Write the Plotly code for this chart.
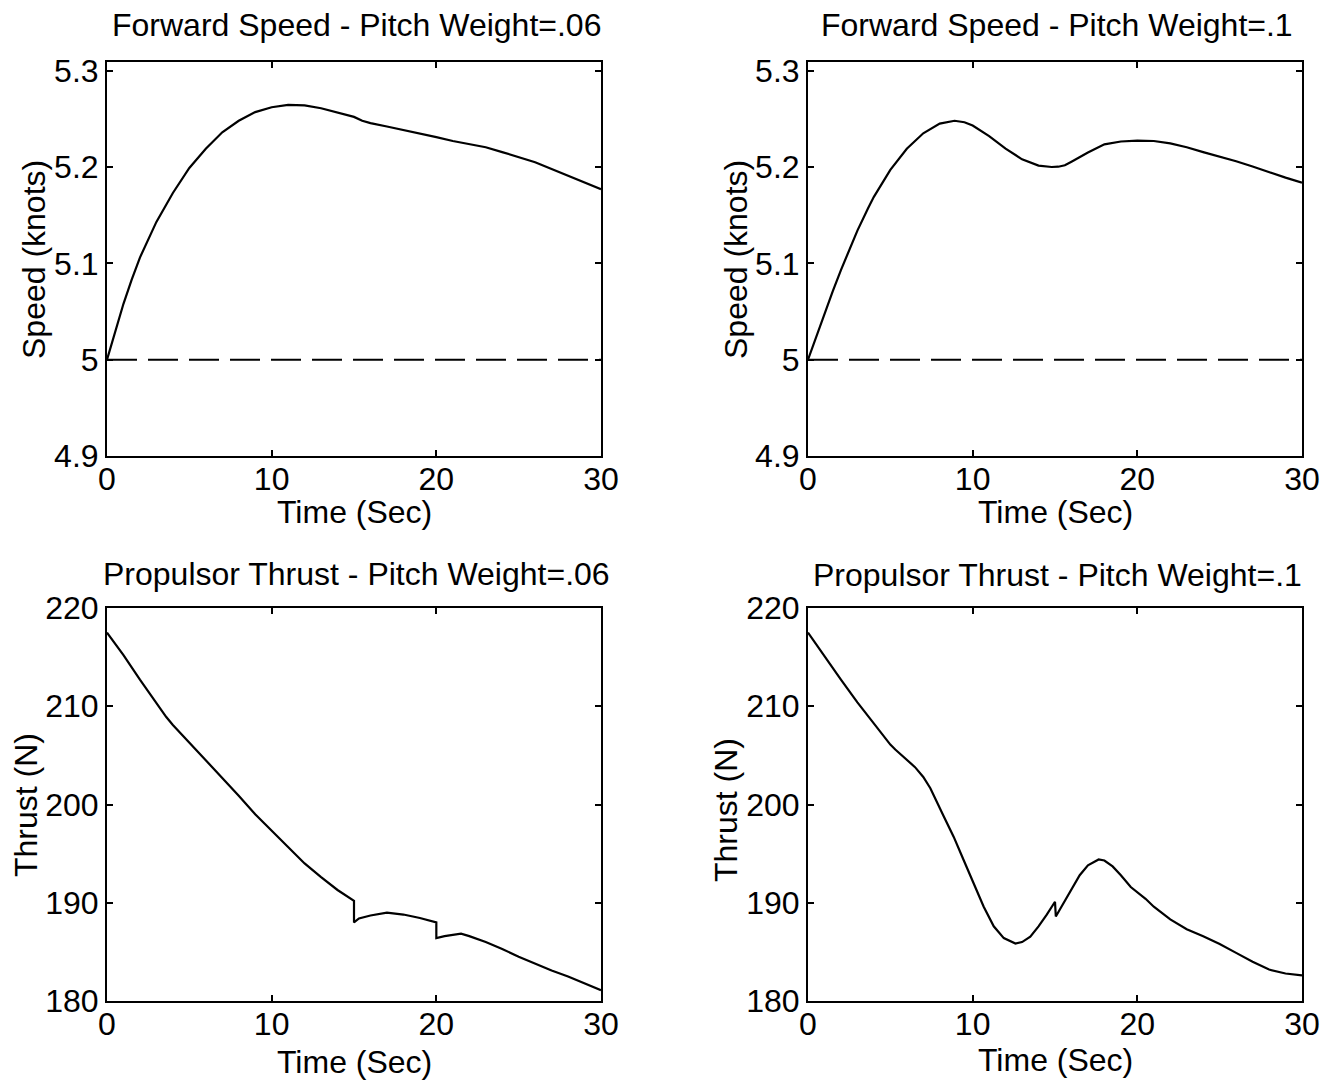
import plotly.graph_objects as go

W, H = 1328, 1081

# ---------------- data ----------------
speed06_t = [0, 0.5, 1, 1.5, 2, 3, 4, 5, 6, 7, 8, 9, 10, 11, 12, 13, 14, 15, 15.5, 16, 17, 18, 19,
             20, 21, 22, 23, 24, 25, 26, 27, 28, 29, 30]
speed06_v = [5.000, 5.030, 5.058, 5.083, 5.106, 5.143, 5.173, 5.199, 5.219, 5.236, 5.248, 5.257, 5.262,
             5.2645, 5.264, 5.261, 5.2565, 5.252, 5.248, 5.2455, 5.242, 5.2385, 5.235, 5.231, 5.227,
             5.224, 5.2205, 5.2155, 5.2105, 5.205, 5.198, 5.191, 5.184, 5.177]

speed10_t = [0, 0.5, 1, 1.5, 2, 3, 3.64, 4, 5, 5.47, 6, 7, 8, 8.9, 9.5, 10, 11, 12, 13, 14, 14.8, 15.2,
             15.6, 16, 17, 18, 19, 20, 21, 22, 23, 24, 25, 26, 27, 28, 29, 30]
speed10_v = [5.000, 5.024, 5.047, 5.071, 5.093, 5.134, 5.157, 5.169, 5.197, 5.207, 5.219, 5.235, 5.245,
             5.248, 5.2465, 5.243, 5.232, 5.219, 5.208, 5.2015, 5.200, 5.2003, 5.2018, 5.2055, 5.215,
             5.2235, 5.2265, 5.2274, 5.227, 5.2245, 5.2205, 5.2155, 5.211, 5.206, 5.2005, 5.1945,
             5.189, 5.1838]

ref_t = [0, 30]
ref_v = [5.0, 5.0]

thrust06_t = [0, 0.5, 1, 2, 3, 3.6, 4, 5, 6, 7, 8, 9, 10, 11, 12, 13, 14, 15.0, 15.0, 15.3, 16, 17, 18,
              19, 20.0, 20.0, 20.5, 21.5, 22, 23, 24, 25, 26, 27, 28, 29, 30]
thrust06_v = [217.5, 216.4, 215.2, 212.7, 210.3, 208.9, 208.1, 206.3, 204.6, 202.8, 200.9, 199.0, 197.3,
              195.7, 194.0, 192.6, 191.3, 190.2, 188.0, 188.4, 188.7, 189.0, 188.8, 188.45, 188.0, 186.4,
              186.6, 186.85, 186.6, 186.0, 185.3, 184.5, 183.8, 183.1, 182.5, 181.8, 181.1]

thrust10_t = [0, 0.5, 1, 2, 3, 4, 5, 5.3, 6, 6.5, 7, 7.43, 8.24, 8.85, 9.45, 10.06, 10.67, 11.28, 11.89,
              12.6, 13, 13.5, 14, 14.5, 15.0, 15.05, 15.5, 16, 16.5, 17, 17.65, 18, 18.5, 19, 19.6,
              20.5, 21, 22, 23, 24, 25, 26, 27, 28, 29, 30]
thrust10_v = [217.5, 216.3, 215.0, 212.7, 210.4, 208.3, 206.1, 205.6, 204.6, 203.8, 202.8, 201.65, 198.8,
              196.7, 194.35, 192.0, 189.6, 187.6, 186.4, 185.85, 186.0, 186.55, 187.6, 188.8, 190.1,
              188.6, 189.9, 191.4, 192.8, 193.8, 194.4, 194.3, 193.7, 192.8, 191.6, 190.4, 189.6,
              188.3, 187.3, 186.6, 185.8, 184.9, 184.0, 183.2, 182.8, 182.6]

x_ticks = [0, 10, 20, 30]
speed_ticks = [4.9, 5.0, 5.1, 5.2, 5.3]
speed_labels = ["4.9", "5", "5.1", "5.2", "5.3"]
thrust_ticks = [180, 190, 200, 210, 220]
thrust_labels = ["180", "190", "200", "210", "220"]

titles = ["Forward Speed - Pitch Weight=.06", "Forward Speed - Pitch Weight=.1",
          "Propulsor Thrust - Pitch Weight=.06", "Propulsor Thrust - Pitch Weight=.1"]
x_title = "Time (Sec)"
y_titles = ["Speed (knots)", "Speed (knots)", "Thrust (N)", "Thrust (N)"]

# ---------------- layout geometry (pixels) ----------------
cols = [(107, 601), (808, 1302)]
rows = [(62, 456), (608, 1001)]
FONT = "Liberation Sans, Arial, Helvetica, sans-serif"
FS = 32

def px2x(p):
    return p / W

def px2y(p):
    return 1 - p / H

fig = go.Figure()
line = dict(color="black", width=2.2)

series = [(speed06_t, speed06_v), (speed10_t, speed10_v), (thrust06_t, thrust06_v), (thrust10_t, thrust10_v)]
for i, (t, v) in enumerate(series):
    ax = "" if i == 0 else str(i + 1)
    if i < 2:
        fig.add_trace(go.Scatter(x=ref_t, y=ref_v, mode="lines", xaxis="x" + ax, yaxis="y" + ax,
                                 line=dict(color="black", width=2, dash="30px,11px"), showlegend=False,
                                 hoverinfo="skip"))
    fig.add_trace(go.Scatter(x=t, y=v, mode="lines", xaxis="x" + ax, yaxis="y" + ax, line=line,
                             showlegend=False))

layout = dict(width=W, height=H, margin=dict(l=0, r=0, t=0, b=0, pad=0, autoexpand=False),
              paper_bgcolor="white", plot_bgcolor="white",
              font=dict(family=FONT, size=FS, color="black"))

axis_common = dict(showline=True, linecolor="black", linewidth=2, mirror="ticks", ticks="inside",
                   ticklen=6, tickwidth=2, tickcolor="black", showgrid=False, zeroline=False,
                   automargin=False, tickfont=dict(family=FONT, size=FS, color="black"))

annotations = []
title_y = [25, 25, 574, 575]
xlab_y = [512, 512, 1062, 1060]
ylab_x = [34, 736, 26, 726]
ylab_y = [260, 260, 805, 810]

for i in range(4):
    r, c = divmod(i, 2)
    x0, x1 = cols[c]
    y0, y1 = rows[r]
    sfx = "" if i == 0 else str(i + 1)
    xa = dict(axis_common, domain=[px2x(x0), px2x(x1)], range=[0, 30], tickvals=x_ticks,
              ticktext=[str(v) for v in x_ticks], anchor="y" + sfx, ticklabelstandoff=-6)
    if r == 0:
        ya = dict(axis_common, domain=[px2y(y1), px2y(y0)], range=[4.9, 5.309], tickvals=speed_ticks,
                  ticktext=speed_labels, anchor="x" + sfx)
    else:
        ya = dict(axis_common, domain=[px2y(y1), px2y(y0)], range=[180, 220], tickvals=thrust_ticks,
                  ticktext=thrust_labels, anchor="x" + sfx)
    layout["xaxis" + sfx] = xa
    layout["yaxis" + sfx] = ya

    cx = (x0 + x1) / 2
    annotations.append(dict(text=titles[i], x=px2x(cx + 2), y=px2y(title_y[i]), xref="paper", yref="paper",
                            xanchor="center", yanchor="middle", showarrow=False,
                            font=dict(family=FONT, size=FS, color="black")))
    annotations.append(dict(text=x_title, x=px2x(cx), y=px2y(xlab_y[i]), xref="paper", yref="paper",
                            xanchor="center", yanchor="middle", showarrow=False,
                            font=dict(family=FONT, size=FS, color="black")))
    annotations.append(dict(text=y_titles[i], x=px2x(ylab_x[i]), y=px2y(ylab_y[i]), xref="paper",
                            yref="paper", xanchor="center", yanchor="middle", textangle=-90,
                            showarrow=False, font=dict(family=FONT, size=FS, color="black")))

layout["annotations"] = annotations
fig.update_layout(**layout)
fig.write_html("out.html")
